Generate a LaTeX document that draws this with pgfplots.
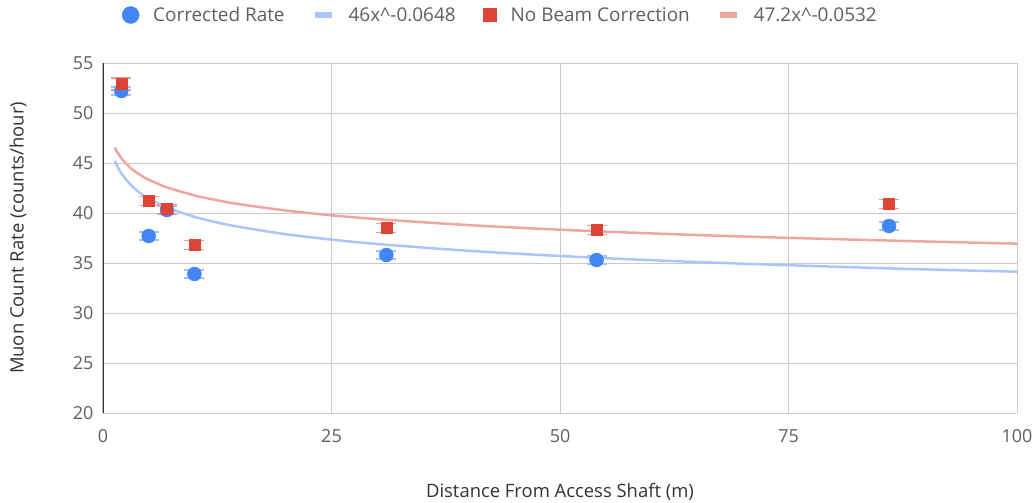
\documentclass[border=0pt]{standalone}
\usepackage{pgfplots}
\pgfplotsset{compat=1.18}
\usepackage{fontspec}
\setmainfont{Open Sans}
\definecolor{gblue}{HTML}{4285F4}
\definecolor{gred}{HTML}{DB4437}
\definecolor{lblue}{HTML}{A9C7FA}
\definecolor{lred}{HTML}{EEA79F}
\definecolor{ebblue}{HTML}{A0C0F8}
\definecolor{ebred}{HTML}{EC9C93}
\definecolor{tickgray}{HTML}{5F5F5F}
\definecolor{labgray}{HTML}{333333}
\begin{document}
\begin{tikzpicture}
\path[use as bounding box] (-103bp,-90bp) rectangle (932bp,413bp);
\begin{axis}[
  scale only axis,
  width=914bp, height=350bp,
  xmin=0, xmax=100, ymin=20, ymax=55,
  xtick={0,25,50,75,100},
  ytick={20,25,30,35,40,45,50,55},
  grid=major,
  major grid style={color=black!20, line width=1bp},
  axis line style={draw=none},
  tick style={draw=none},
  /pgf/number format/assume math mode=true,
  ticklabel style={font=\fontsize{18}{20}\selectfont, text=tickgray},
  xticklabel style={yshift=-13bp},
  yticklabel style={xshift=-6bp},
  xlabel={Distance From Access Shaft (m)},
  ylabel={Muon Count Rate (counts/hour)},
  label style={font=\fontsize{18.5}{21}\selectfont, text=labgray},
  xlabel style={at={(axis description cs:0.5,-0.2257)}, anchor=center},
  ylabel style={at={(axis description cs:-0.093,0.5)}, anchor=center},
  legend columns=-1,
  legend style={draw=none, fill=none, at={(rel axis cs:0,1)}, anchor=west, xshift=16bp, yshift=48bp,
    font=\fontsize{19}{21}\selectfont, text=tickgray,
    /tikz/every odd column/.append style={column sep=12bp},
    /tikz/every even column/.append style={column sep=26bp}},
  legend cell align=left,
]
% baselines
\draw[black!20, line width=1bp] (axis cs:0,20) -- (axis cs:100,20);
\draw[labgray, line width=1.2bp] (axis cs:0,20) -- (axis cs:0,55);

% legend
\addlegendimage{only marks, mark=*, mark size=8.5bp, color=gblue}
\addlegendentry{Corrected Rate}
\addlegendimage{line legend, color=lblue, line width=5bp}
\addlegendentry{46x\^{}-0.0648}
\addlegendimage{only marks, mark=square*, mark size=6.5bp, color=gred}
\addlegendentry{No Beam Correction}
\addlegendimage{line legend, color=lred, line width=5bp}
\addlegendentry{47.2x\^{}-0.0532}

% trendlines (values of the fitted curves read at sample distances)
\addplot[forget plot, color=lblue, line width=2.5bp, smooth] coordinates {
(1.3,45.22) (1.5,44.81) (2,43.98) (3,42.84) (4,42.05) (5,41.44) (7,40.55) (10,39.62)
(12.5,39.05) (15,38.60) (20,37.88) (25,37.34) (30,36.90) (40,36.22) (50,35.70)
(60,35.28) (70,34.93) (80,34.63) (90,34.36) (100,34.13)};
\addplot[forget plot, color=lred, line width=2.5bp, smooth] coordinates {
(1.3,46.55) (1.5,46.19) (2,45.49) (3,44.52) (4,43.84) (5,43.33) (7,42.56) (10,41.76)
(12.5,41.27) (15,40.87) (20,40.25) (25,39.77) (30,39.39) (40,38.79) (50,38.33)
(60,37.96) (70,37.65) (80,37.39) (90,37.15) (100,36.94)};

% Corrected Rate
\addplot[forget plot, only marks, mark=*, mark size=7bp, color=gblue,
  error bars/.cd, y dir=both, y explicit,
  error bar style={color=ebblue, line width=1.5bp},
  error mark options={rotate=90, mark size=10bp, color=ebblue, line width=1.5bp}]
coordinates {
(2,52.2) +- (0,0.4)
(5,37.7) +- (0,0.4)
(7,40.3) +- (0,0.4)
(10,33.9) +- (0,0.4)
(31,35.8) +- (0,0.4)
(54,35.3) +- (0,0.4)
(86,38.7) +- (0,0.4)
};

% No Beam Correction
\addplot[forget plot, only marks, mark=square*, mark size=5.5bp, color=gred,
  error bars/.cd, y dir=both, y explicit,
  error bar style={color=ebred, line width=1.5bp},
  error mark options={rotate=90, mark size=10bp, color=ebred, line width=1.5bp}]
coordinates {
(2,52.9) +- (0,0.6)
(5,41.2) +- (0,0.45)
(7,40.4) +- (0,0.45)
(10,36.8) +- (0,0.45)
(31,38.5) +- (0,0.45)
(54,38.3) +- (0,0.45)
(86,40.9) +- (0,0.45)
};
\end{axis}
\end{tikzpicture}
\end{document}
